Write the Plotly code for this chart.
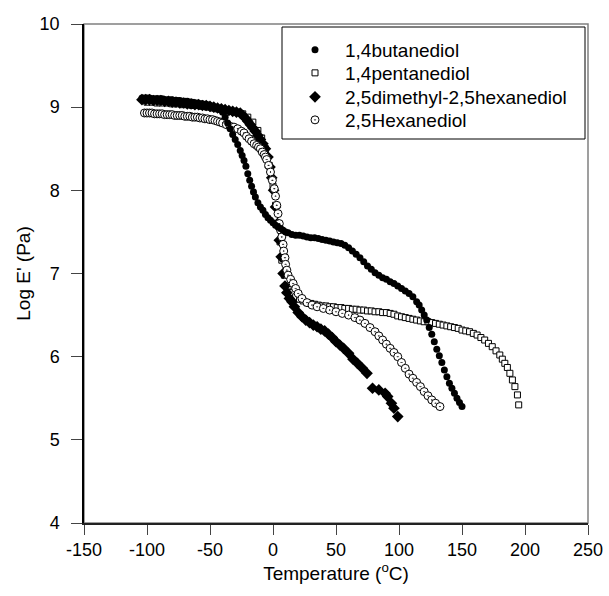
import plotly.graph_objects as go

# ---------------- data ----------------
bd_temp = [-104, -102, -100, -98, -96, -94, -92, -90, -88, -86, -84, -82, -80, -78, -76, -74, -72, -70,
           -68, -66, -64, -62, -60, -58, -56, -54, -52, -50, -48, -46, -44, -42, -40,
           -38, -36, -34, -32, -30, -28, -26, -24.5, -23, -21.5, -20, -18.5, -17, -15.5, -14, -12, -10,
           -8, -6, -4, -2, 0, 2, 4, 6, 8, 10, 12, 15, 18, 21, 24, 27, 30, 33, 36, 39, 42, 45, 48, 51,
           54, 57, 60, 63, 66, 69, 72, 75, 78, 81, 84, 87, 90, 93, 96, 99, 102, 105, 108, 111, 114,
           116, 118, 120, 122, 124, 126, 128, 130, 132, 134, 136, 138, 140, 142, 144, 146, 148, 150]
bd_loge = [9.11, 9.11, 9.11, 9.11, 9.10, 9.10, 9.10, 9.10, 9.10, 9.09, 9.09, 9.09, 9.09, 9.08, 9.08, 9.08,
           9.07, 9.07, 9.07, 9.06, 9.06, 9.05, 9.05, 9.04, 9.04, 9.03, 9.03, 9.02, 9.01, 9.00, 8.99, 8.97,
           8.94, 8.88, 8.81, 8.74, 8.67, 8.61, 8.55, 8.48, 8.42, 8.36, 8.29, 8.20, 8.12, 8.05, 7.98, 7.92,
           7.85, 7.80, 7.76, 7.71, 7.67, 7.64, 7.61, 7.58, 7.56, 7.54, 7.52, 7.50, 7.49, 7.47, 7.46, 7.46,
           7.45, 7.44, 7.43, 7.43, 7.42, 7.41, 7.40, 7.39, 7.38, 7.37, 7.36, 7.34, 7.31, 7.27, 7.23, 7.19,
           7.14, 7.09, 7.05, 7.01, 6.98, 6.95, 6.93, 6.90, 6.88, 6.85, 6.82, 6.79, 6.76, 6.72, 6.66, 6.62,
           6.56, 6.50, 6.44, 6.35, 6.27, 6.18, 6.09, 6.01, 5.93, 5.84, 5.76, 5.68, 5.62, 5.56, 5.50, 5.45,
           5.40]

pd_temp = [-100, -96, -92, -88, -84, -80, -76, -72, -68, -64, -60, -56, -52, -48, -44, -40, -36, -32,
           -28, -24, -20, -16, -12, -9, -6, -3, 0, 2, 4, 5.6, 7, 9, 12, 15, 18, 21, 24, 27, 30, 33, 36,
           39, 42, 45, 48, 51, 54, 57, 60, 63, 66, 69, 72, 75, 78, 81, 84, 87, 90, 93, 96, 99, 102, 105,
           108, 111, 114, 117, 120, 123, 126, 129, 132, 135, 138, 141, 144, 147, 150, 153, 156, 159, 162,
           165, 168, 171, 174, 177, 180, 182, 184, 186, 188, 190, 192, 194, 195]
pd_loge = [9.06, 9.06, 9.05, 9.05, 9.05, 9.04, 9.04, 9.03, 9.03, 9.02, 9.02, 9.01, 9.00, 8.99, 8.98,
           8.97, 8.96, 8.95, 8.94, 8.92, 8.88, 8.82, 8.72, 8.63, 8.50, 8.30, 8.05, 7.82, 7.58, 7.38, 7.16,
           6.98, 6.85, 6.77, 6.72, 6.69, 6.67, 6.65, 6.64, 6.63, 6.62, 6.61, 6.61, 6.60, 6.60, 6.59, 6.59,
           6.58, 6.58, 6.57, 6.57, 6.56, 6.56, 6.55, 6.55, 6.54, 6.54, 6.53, 6.53, 6.52, 6.51, 6.49, 6.48,
           6.47, 6.46, 6.45, 6.44, 6.43, 6.42, 6.42, 6.41, 6.40, 6.39, 6.38, 6.37, 6.36, 6.35, 6.34, 6.32,
           6.31, 6.30, 6.28, 6.26, 6.23, 6.20, 6.16, 6.12, 6.07, 6.02, 5.97, 5.92, 5.87, 5.80, 5.72, 5.64,
           5.54, 5.42]

dm_temp = [-104, -101, -98, -95, -92, -89, -86, -83, -80, -77, -74, -71, -68, -65, -62, -59, -56, -53,
           -50, -47, -44, -41, -38, -35, -32, -29, -26, -24, -22, -20, -18, -16, -14, -12, -10, -8, -6,
           -4, -2.4, -1, 0.5, 2, 3.5, 5, 6.5, 8, 9.5, 11, 13, 15, 17, 20, 23, 26, 29, 32, 35, 38, 41, 44,
           47, 50, 53, 56, 60, 63.5, 67, 71, 74.6, 79, 84, 89, 91, 94, 96, 99]
dm_loge = [9.09, 9.09, 9.09, 9.08, 9.08, 9.08, 9.07, 9.07, 9.06, 9.06, 9.05, 9.05, 9.04, 9.04, 9.03,
           9.03, 9.02, 9.02, 9.01, 9.00, 8.99, 8.98, 8.97, 8.96, 8.95, 8.94, 8.93, 8.90, 8.87, 8.83, 8.79,
           8.75, 8.71, 8.66, 8.61, 8.56, 8.50, 8.40, 8.28, 8.15, 8.00, 7.80, 7.60, 7.40, 7.20, 7.00, 6.85,
           6.77, 6.70, 6.66, 6.60, 6.53, 6.48, 6.44, 6.41, 6.38, 6.36, 6.33, 6.31, 6.27, 6.23, 6.18, 6.14,
           6.10, 6.04, 5.97, 5.92, 5.86, 5.80, 5.62, 5.60, 5.56, 5.52, 5.44, 5.38, 5.28]

hx_temp = [-102, -100, -98, -96, -94, -92, -90, -88, -86, -84, -82, -80, -78, -76, -74, -72, -70, -68,
           -66, -64, -62, -60, -58, -56, -54, -52, -50, -48, -46, -44, -42, -40, -37, -34, -31, -28, -25,
           -23, -21, -19, -17, -15, -13, -11.5, -10, -8.5, -7, -6, -5, -3.5, -2, -0.5, 1, 2, 3, 4, 5, 6,
           7, 8, 8.5, 9.5, 10, 11, 12, 14, 16, 18, 20, 23, 27, 31, 35, 40, 45, 50, 55, 60, 65, 69, 73, 77,
           81, 84, 87, 90, 93, 96, 99, 102, 105, 108, 111, 114, 117, 120, 123, 126, 129, 132.5]
hx_loge = [8.93, 8.93, 8.93, 8.93, 8.92, 8.92, 8.92, 8.92, 8.91, 8.91, 8.91, 8.91, 8.90, 8.90, 8.90,
           8.90, 8.89, 8.89, 8.89, 8.88, 8.88, 8.88, 8.87, 8.87, 8.86, 8.86, 8.85, 8.85, 8.84, 8.83, 8.82,
           8.81, 8.79, 8.77, 8.76, 8.74, 8.71, 8.69, 8.65, 8.62, 8.59, 8.56, 8.54, 8.52, 8.50, 8.46, 8.43,
           8.40, 8.37, 8.30, 8.22, 8.12, 8.02, 7.93, 7.82, 7.72, 7.60, 7.52, 7.44, 7.35, 7.27, 7.19, 7.11,
           7.04, 6.98, 6.93, 6.88, 6.82, 6.76, 6.70, 6.65, 6.62, 6.60, 6.58, 6.56, 6.54, 6.52, 6.50, 6.47,
           6.44, 6.40, 6.35, 6.30, 6.25, 6.20, 6.15, 6.10, 6.05, 6.00, 5.93, 5.86, 5.79, 5.74, 5.69, 5.64,
           5.58, 5.53, 5.48, 5.44, 5.40]

series_names = ["1,4butanediol", "1,4pentanediol", "2,5dimethyl-2,5hexanediol", "2,5Hexanediol"]
x_ticks = [-150, -100, -50, 0, 50, 100, 150, 200, 250]
y_ticks = [4, 5, 6, 7, 8, 9, 10]

FONT = "Liberation Sans, Arial, sans-serif"

fig = go.Figure()
# drawing order: pentanediol, dimethyl, hexanediol, butanediol; each has its own legend row
fig.add_trace(go.Scatter(x=pd_temp, y=pd_loge, mode="markers", name=series_names[1], legend="legend2",
                         marker=dict(symbol="square", size=6, color="white",
                                     line=dict(color="black", width=1))))
fig.add_trace(go.Scatter(x=dm_temp, y=dm_loge, mode="markers", name=series_names[2], legend="legend3",
                         marker=dict(symbol="diamond", size=9, color="black",
                                     line=dict(color="black", width=0))))
fig.add_trace(go.Scatter(x=hx_temp, y=hx_loge, mode="markers", name=series_names[3], legend="legend4",
                         marker=dict(symbol="circle-dot", size=8, color="white",
                                     line=dict(color="black", width=1))))
fig.add_trace(go.Scatter(x=bd_temp, y=bd_loge, mode="markers", name=series_names[0], legend="legend",
                         marker=dict(symbol="circle", size=7, color="black",
                                     line=dict(color="black", width=0))))

W, H = 609, 596
ML, MR, MT, MB = 84, 21, 24, 73
PW, PH = W - ML - MR, H - MT - MB


def px_x(px):
    return (px - ML) / PW


def px_y(py):
    return 1 - (py - MT) / PH


legend_rows = [50, 73, 97, 120]


def leg(row):
    return dict(x=px_x(285), y=px_y(row), xanchor="left", yanchor="middle",
                bgcolor="rgba(0,0,0,0)", borderwidth=0, itemwidth=50,
                font=dict(family=FONT, size=19, color="black"))


fig.update_layout(
    width=W, height=H,
    margin=dict(l=ML, r=MR, t=MT, b=MB, autoexpand=False),
    paper_bgcolor="white", plot_bgcolor="white",
    font=dict(family=FONT, size=18, color="black"),
    showlegend=True,
    legend=leg(legend_rows[0]),
    legend2=leg(legend_rows[1]),
    legend3=leg(legend_rows[2]),
    legend4=leg(legend_rows[3]),
    shapes=[
        dict(type="rect", xref="paper", yref="paper", x0=0, x1=1, y0=0, y1=1,
             line=dict(color="#808080", width=1.5), layer="below"),
        dict(type="rect", xref="paper", yref="paper", x0=px_x(282), x1=px_x(585), y0=px_y(139), y1=px_y(27),
             line=dict(color="black", width=1), fillcolor="white", layer="below"),
    ],
)

fig.update_xaxes(
    range=[-150, 250], tickvals=x_ticks, ticktext=[str(v) for v in x_ticks], automargin=False,
    showgrid=False, zeroline=False, showline=True, linecolor="#222222", linewidth=1.5,
    ticks="outside", ticklen=10, tickcolor="#444444", tickwidth=1,
    tickfont=dict(family=FONT, size=18),
    title=dict(text="Temperature (<sup>o</sup>C)", font=dict(family=FONT, size=19), standoff=7),
)
fig.update_yaxes(
    range=[4, 10], tickvals=y_ticks, ticktext=[str(v) for v in y_ticks], automargin=False,
    showgrid=False, zeroline=False, showline=True, linecolor="black", linewidth=1.5,
    ticks="outside", ticklen=11, tickcolor="#444444", tickwidth=1,
    tickfont=dict(family=FONT, size=18), ticklabelstandoff=8,
    title=dict(text="Log E' (Pa)", font=dict(family=FONT, size=19), standoff=4),
)

fig.write_html("out.html", config={"displayModeBar": False},
               post_script="document.body.style.margin='0';document.body.style.overflow='hidden';")
